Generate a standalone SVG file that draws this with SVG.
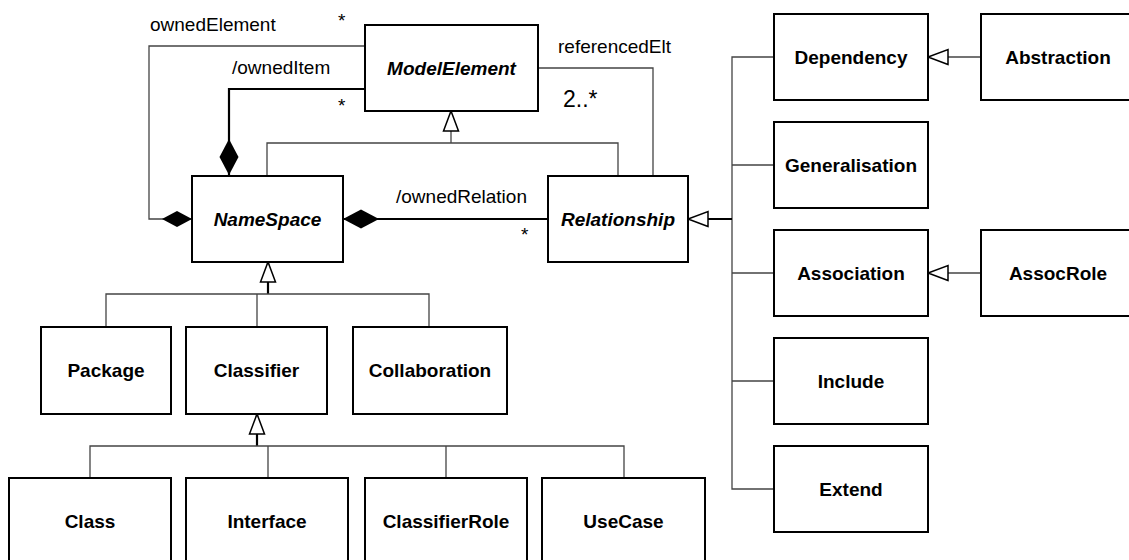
<svg xmlns="http://www.w3.org/2000/svg" width="1129" height="560" viewBox="0 0 1129 560">
<style>
.box{fill:#fff;stroke:#000;stroke-width:2}
.t{font-family:"Liberation Sans",Arial,sans-serif;font-size:19px;font-weight:bold;text-anchor:middle;fill:#000}
.ti{font-style:italic}
.lbl{font-family:"Liberation Sans",Arial,sans-serif;font-size:19px;fill:#000}
.thin{fill:none;stroke:#444;stroke-width:1.3}
.thick{fill:none;stroke:#000;stroke-width:2.2}
</style>
<defs>
<marker id="tri" markerUnits="userSpaceOnUse" markerWidth="22" markerHeight="16" refX="20" refY="7.5" orient="auto" overflow="visible">
<path d="M0,0 L20,7.5 L0,15 z" fill="#fff" stroke="#000" stroke-width="1.5"/>
</marker>
<marker id="dia" markerUnits="userSpaceOnUse" markerWidth="38" markerHeight="20" refX="36" refY="9.5" orient="auto" overflow="visible">
<path d="M0,9.5 L18,0 L36,9.5 L18,19 z" fill="#000"/>
</marker>
<marker id="dias" markerUnits="userSpaceOnUse" markerWidth="32" markerHeight="18" refX="30" refY="8" orient="auto" overflow="visible">
<path d="M0,8 L15,0 L30,8 L15,16 z" fill="#000"/>
</marker>
</defs>

<g id="connectors">
<path class="thin" d="M365,46 H149 V219 H192" marker-end="url(#dias)"/>
<path class="thick" d="M365,89 H229 V175" marker-end="url(#dia)"/>
<path class="thin" d="M267,175 V143 H618 V176"/>
<path class="thin" d="M451,143 V111" marker-end="url(#tri)"/>
<path class="thin" d="M538,68 H653 V176"/>
<path class="thick" d="M548,219 H343" marker-end="url(#dia)"/>
<path class="thin" d="M774,57 H732 V489 H774"/>
<path class="thin" d="M732,165 H774 M732,273 H774 M732,381 H774"/>
<path class="thick" d="M732,219 H688" marker-end="url(#tri)"/>
<path class="thin" d="M981,57 H928" marker-end="url(#tri)"/>
<path class="thin" d="M981,273 H928" marker-end="url(#tri)"/>
<path class="thick" d="M268,294 V262" marker-end="url(#tri)"/>
<path class="thin" d="M106,327 V294 H429 V327 M257,294 V327"/>
<path class="thick" d="M257,446 V414" marker-end="url(#tri)"/>
<path class="thin" d="M90,478 V446 H624 V478 M268,446 V478 M446,446 V478"/>
</g>

<g id="labels">
<text class="lbl" x="150" y="31">ownedElement</text>
<text class="lbl" x="338" y="27">*</text>
<text class="lbl" x="232" y="74">/ownedItem</text>
<text class="lbl" x="338" y="112">*</text>
<text class="lbl" x="558" y="53">referencedElt</text>
<text class="lbl" x="563" y="107" style="font-size:23px">2..*</text>
<text class="lbl" x="396" y="203">/ownedRelation</text>
<text class="lbl" x="521" y="241">*</text>
</g>

<g id="ModelElement"><rect class="box" x="365" y="25" width="173" height="86"/><text class="t ti" x="451.5" y="75">ModelElement</text></g>
<g id="NameSpace"><rect class="box" x="192" y="176" width="151" height="86"/><text class="t ti" x="267.5" y="226">NameSpace</text></g>
<g id="Relationship"><rect class="box" x="548" y="176" width="140" height="86"/><text class="t ti" x="618" y="226">Relationship</text></g>
<g id="Dependency"><rect class="box" x="774" y="14" width="154" height="86"/><text class="t" x="851" y="64">Dependency</text></g>
<g id="Abstraction"><rect class="box" x="981" y="14" width="154" height="86"/><text class="t" x="1058" y="64">Abstraction</text></g>
<g id="Generalisation"><rect class="box" x="774" y="122" width="154" height="86"/><text class="t" x="851" y="172">Generalisation</text></g>
<g id="Association"><rect class="box" x="774" y="230" width="154" height="86"/><text class="t" x="851" y="280">Association</text></g>
<g id="AssocRole"><rect class="box" x="981" y="230" width="154" height="86"/><text class="t" x="1058" y="280">AssocRole</text></g>
<g id="Include"><rect class="box" x="774" y="338" width="154" height="86"/><text class="t" x="851" y="388">Include</text></g>
<g id="Extend"><rect class="box" x="774" y="446" width="154" height="86"/><text class="t" x="851" y="496">Extend</text></g>
<g id="Package"><rect class="box" x="41" y="327" width="130" height="87"/><text class="t" x="106" y="377">Package</text></g>
<g id="Classifier"><rect class="box" x="186" y="327" width="141" height="87"/><text class="t" x="256.5" y="377">Classifier</text></g>
<g id="Collaboration"><rect class="box" x="353" y="327" width="154" height="87"/><text class="t" x="430" y="377">Collaboration</text></g>
<g id="Class"><rect class="box" x="9" y="478" width="162" height="90"/><text class="t" x="90" y="528">Class</text></g>
<g id="Interface"><rect class="box" x="186" y="478" width="162" height="90"/><text class="t" x="267" y="528">Interface</text></g>
<g id="ClassifierRole"><rect class="box" x="365" y="478" width="162" height="90"/><text class="t" x="446" y="528">ClassifierRole</text></g>
<g id="UseCase"><rect class="box" x="542" y="478" width="163" height="90"/><text class="t" x="623.5" y="528">UseCase</text></g>
</svg>
